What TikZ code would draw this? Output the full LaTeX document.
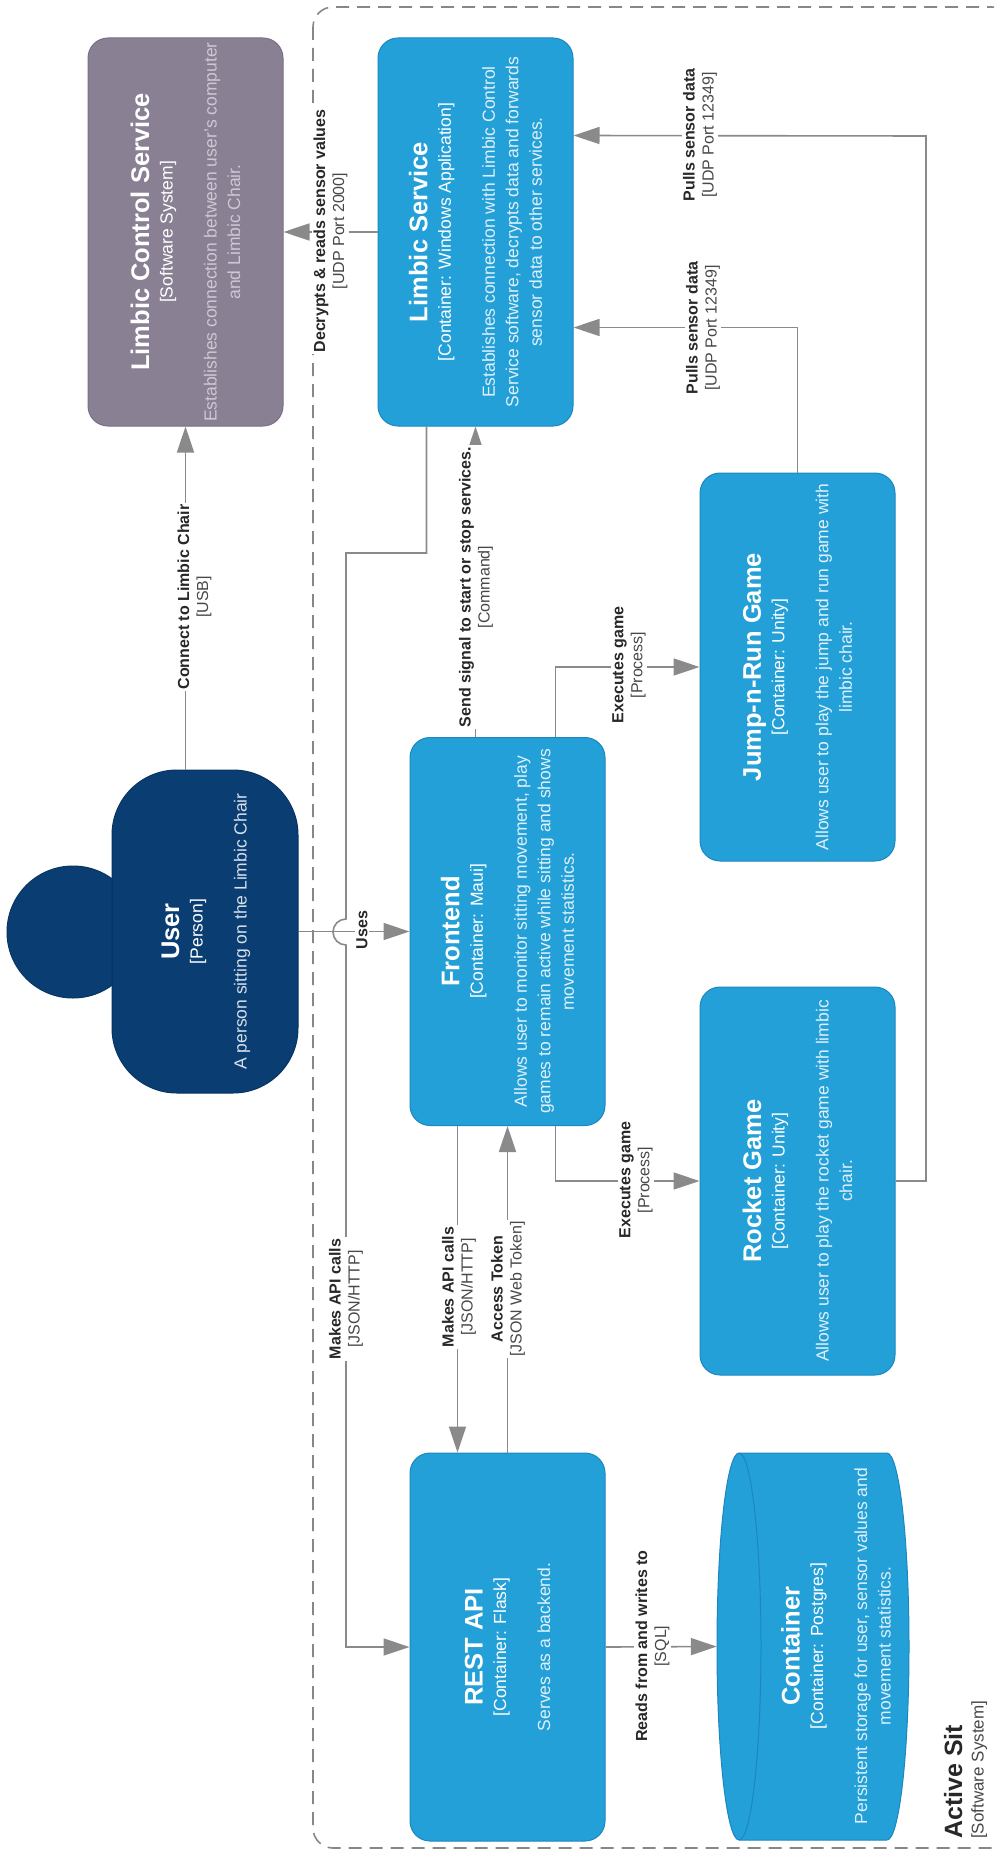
\documentclass[tikz,border=0pt]{standalone}
\usepackage{fontspec}
\setmainfont{Liberation Sans}
\usetikzlibrary{arrows.meta,calc}

\definecolor{cbox}{RGB}{35,160,216}
\definecolor{cboxline}{RGB}{28,135,190}
\definecolor{cboxdesc}{RGB}{222,240,250}
\definecolor{extbox}{RGB}{138,128,148}
\definecolor{extline}{RGB}{120,112,132}
\definecolor{extdesc}{RGB}{205,200,212}
\definecolor{pbox}{RGB}{10,62,114}
\definecolor{pline}{RGB}{8,52,98}
\definecolor{pdesc}{RGB}{215,224,235}
\definecolor{relc}{RGB}{138,138,138}
\definecolor{lblbold}{RGB}{40,40,40}
\definecolor{lbltech}{RGB}{72,72,72}
\definecolor{bnd}{RGB}{135,135,135}

\newcommand\boxtitle{\bfseries\fontsize{25.5pt}{23.5pt}\selectfont}
\newcommand\relbold[1]{{\bfseries\color{lblbold}#1}}
\newcommand\reltech[1]{{\color{lbltech}#1}}

\begin{document}
\begin{tikzpicture}[x=1pt,y=-1pt,
  every node/.style={inner sep=0pt},
  cbx/.style={draw=cboxline, fill=cbox, line width=1pt, rounded corners=20pt,
    minimum width=195pt, minimum height=388pt},
  extbx/.style={draw=extline, fill=extbox, line width=1pt, rounded corners=20pt,
    minimum width=195pt, minimum height=388pt},
  boxtext/.style={rotate=90, align=center, text=white,
    font=\fontsize{17.5pt}{23.5pt}\selectfont},
  rel/.style={draw=relc, line width=1.6pt, line join=miter,
    -{Triangle[length=26pt,width=17pt]}},
  rlabel/.style={rotate=90, align=center, fill=white, inner sep=1.5pt,
    font=\fontsize{16pt}{19pt}\selectfont},
  boundary/.style={draw=bnd, line width=1.6pt, dash pattern=on 13pt off 8pt,
    rounded corners=20pt}
]
\useasboundingbox (0,0) rectangle (994,1851);
\clip (0,0) rectangle (994,1851);

% system boundary
\draw[boundary] (313,7) rectangle (1012,1848);

% person
\node[circle, fill=pbox, draw=pline, line width=1pt, minimum size=132pt] (head) at (73,932) {};
\node[fill=pbox, draw=pline, line width=1pt, rounded corners=65pt,
  minimum width=186pt, minimum height=323pt] (user) at (205,931.5) {};

% boxes
\node[extbx] (lcs) at (185.5,232) {};
\node[cbx] (ls) at (475.5,232) {};
\node[cbx] (fe) at (507.5,931.5) {};
\node[cbx] (jr) at (797.5,667) {};
\node[cbx] (rg) at (797.5,1181) {};
\node[cbx] (api) at (507.5,1647) {};

% database cylinder, lying on its side with the top face to the left
\node[minimum width=192pt, minimum height=387pt] (db) at (813,1646.5) {};
\fill[cbox] (739,1453) -- (887,1453)
  arc[start angle=-90, end angle=90, x radius=22, y radius=193.5]
  -- (739,1840)
  arc[start angle=90, end angle=270, x radius=22, y radius=193.5] -- cycle;
\draw[cboxline, line width=1pt] (739,1453) -- (887,1453)
  arc[start angle=-90, end angle=90, x radius=22, y radius=193.5]
  -- (739,1840)
  arc[start angle=90, end angle=270, x radius=22, y radius=193.5] -- cycle;
\draw[cboxline, line width=1pt] (739,1453)
  arc[start angle=-90, end angle=90, x radius=22, y radius=193.5];

% box texts
\node[boxtext] (lcs-t) at (lcs.center) {{\boxtitle Limbic Control Service}\\
  {[Software System]}\\[20.5pt]
  {\color{extdesc}Establishes connection between user's computer}\\
  {\color{extdesc}and Limbic Chair.}};
\node[boxtext] (ls-t) at (ls.center) {{\boxtitle Limbic Service}\\
  {[Container: Windows Application]}\\[20.5pt]
  {\color{cboxdesc}Establishes connection with Limbic Control}\\
  {\color{cboxdesc}Service software, decrypts data and forwards}\\
  {\color{cboxdesc}sensor data to other services.}};
\node[boxtext] (user-t) at (206,931.5) {{\boxtitle User}\\
  {[Person]}\\[20.5pt]
  {\color{pdesc}A person sitting on the Limbic Chair}};
\node[boxtext] (fe-t) at (fe.center) {{\boxtitle Frontend}\\
  {[Container: Maui]}\\[20.5pt]
  {\color{cboxdesc}Allows user to monitor sitting movement, play}\\
  {\color{cboxdesc}games to remain active while sitting and shows}\\
  {\color{cboxdesc}movement statistics.}};
\node[boxtext] (jr-t) at (jr.center) {{\boxtitle Jump-n-Run Game}\\
  {[Container: Unity]}\\[20.5pt]
  {\color{cboxdesc}Allows user to play the jump and run game with}\\
  {\color{cboxdesc}limbic chair.}};
\node[boxtext] (rg-t) at (rg.center) {{\boxtitle Rocket Game}\\
  {[Container: Unity]}\\[20.5pt]
  {\color{cboxdesc}Allows user to play the rocket game with limbic}\\
  {\color{cboxdesc}chair.}};
\node[boxtext] (api-t) at (api.center) {{\boxtitle REST API}\\
  {[Container: Flask]}\\[20.5pt]
  {\color{cboxdesc}Serves as a backend.}};
\node[boxtext] (db-t) at (836,1646) {{\boxtitle Container}\\
  {[Container: Postgres]}\\[20.5pt]
  {\color{cboxdesc}Persistent storage for user, sensor values and}\\
  {\color{cboxdesc}movement statistics.}};

% boundary caption
\node[rotate=90, anchor=base west, font=\bfseries\fontsize{25pt}{25pt}\selectfont,
  text=lblbold] (sys-name) at (962,1839) {Active Sit};
\node[rotate=90, anchor=base west, font=\fontsize{17pt}{17pt}\selectfont,
  text=lbltech] (sys-type) at (983.5,1839) {[Software System]};

% relationships
\draw[rel] (lcs.south |- user.north) -- (lcs.south);
\draw[rel] (ls.west) -- (lcs.east);
\draw[rel] (user.east) -- (fe.west);
\draw[rel] (ls.south |- fe.north) -- (ls.south);
\draw[rel] ($(fe.north west)+(146,0)$) |- (jr.west);
\draw[rel] ($(fe.south west)+(146,0)$) |- (rg.west);
\draw[rel] ($(fe.south west)+(48,0)$) -- ($(api.north west)+(48,0)$);
\draw[rel] (api.north) -- (fe.south);
\draw[rel] (jr.north) |- ($(ls.north east)+(0,290)$);
\coordinate (rbend) at (926,136);
\draw[rel] (rg.east) -| (rbend) -- ($(ls.north east)+(0,98)$);
\coordinate (apibend) at (346,553);
\draw[rel] ($(ls.south west)+(49,0)$) |- (apibend) -- (346,919)
  arc[start angle=270, end angle=90, radius=13] |- (api.west);
\draw[rel] (api.east) -- (db.west);

% relationship labels
\node[rlabel] (l-connect) at (194.5,597) {\relbold{Connect to Limbic Chair}\\\reltech{[USB]}};
\node[rlabel] (l-decrypt) at (330.5,231) {\relbold{Decrypts \& reads sensor values}\\\reltech{[UDP Port 2000]}};
\node[rlabel] (l-uses) at (362,930) {\relbold{Uses}};
\node[rlabel] (l-signal) at (476,587) {\relbold{Send signal to start or stop services.}\\\reltech{[Command]}};
\node[rlabel] (l-execjr) at (629,665) {\relbold{Executes game}\\\reltech{[Process]}};
\node[rlabel] (l-execrg) at (636,1180) {\relbold{Executes game}\\\reltech{[Process]}};
\node[rlabel] (l-api1) at (346,1299) {\relbold{Makes API calls}\\\reltech{[JSON/HTTP]}};
\node[rlabel] (l-api2) at (459,1287) {\relbold{Makes API calls}\\\reltech{[JSON/HTTP]}};
\node[rlabel] (l-token) at (508,1289) {\relbold{Access Token}\\\reltech{[JSON Web Token]}};
\node[rlabel] (l-pull1) at (700,135) {\relbold{Pulls sensor data}\\\reltech{[UDP Port 12349]}};
\node[rlabel] (l-pull2) at (703,328) {\relbold{Pulls sensor data}\\\reltech{[UDP Port 12349]}};
\node[rlabel] (l-sql) at (652.5,1646) {\relbold{Reads from and writes to}\\\reltech{[SQL]}};
\end{tikzpicture}
\end{document}
